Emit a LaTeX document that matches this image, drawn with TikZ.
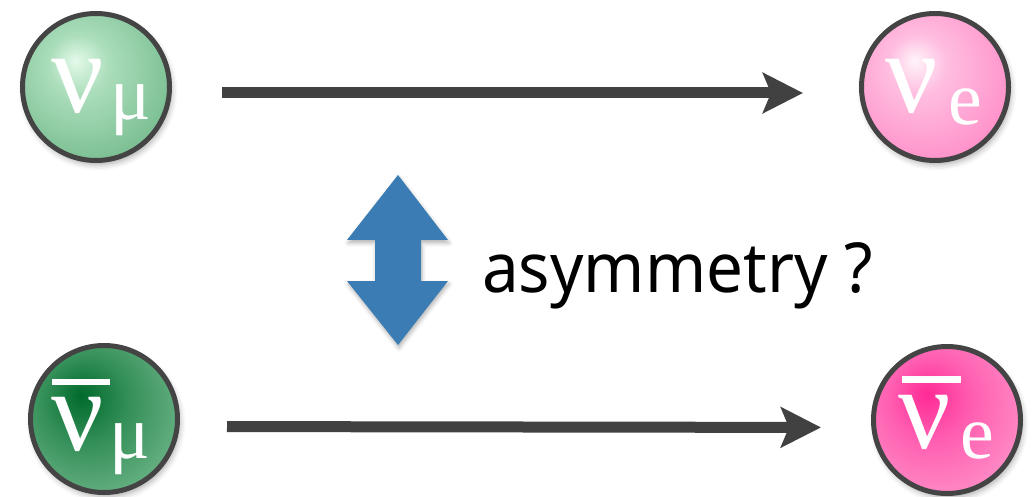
\documentclass[tikz,border=0pt]{standalone}
\usepackage{fontspec}
\usetikzlibrary{arrows.meta,shadows.blur}
\newfontfamily\grk{Liberation Serif}
\newfontfamily\talk{Noto Sans}

\definecolor{ring}{HTML}{444444}
\definecolor{flow}{HTML}{414141}
\definecolor{updown}{HTML}{3A7CB3}

% radial fills, bright spot up and to the left
\pgfdeclareradialshading{numufill}{\pgfpoint{-7bp}{9bp}}{%
  color(0bp)=(rgb,255:red,228;green,250;blue,234);
  color(10bp)=(rgb,255:red,172;green,222;blue,188);
  color(38bp)=(rgb,255:red,106;green,180;blue,132);
  color(66bp)=(rgb,255:red,58;green,134;blue,86)}
\pgfdeclareradialshading{nuefill}{\pgfpoint{-7bp}{9bp}}{%
  color(0bp)=(rgb,255:red,255;green,244;blue,250);
  color(10bp)=(rgb,255:red,255;green,190;blue,224);
  color(38bp)=(rgb,255:red,255;green,130;blue,194);
  color(66bp)=(rgb,255:red,255;green,74;blue,166)}
\pgfdeclareradialshading{anumufill}{\pgfpoint{-8bp}{8bp}}{%
  color(0bp)=(rgb,255:red,0;green,106;blue,44);
  color(14bp)=(rgb,255:red,50;green,142;blue,86);
  color(40bp)=(rgb,255:red,128;green,193;blue,152);
  color(66bp)=(rgb,255:red,198;green,233;blue,210)}
\pgfdeclareradialshading{anuefill}{\pgfpoint{-7bp}{9bp}}{%
  color(0bp)=(rgb,255:red,255;green,42;blue,150);
  color(14bp)=(rgb,255:red,255;green,94;blue,176);
  color(40bp)=(rgb,255:red,255;green,160;blue,208);
  color(66bp)=(rgb,255:red,255;green,214;blue,234)}

\tikzset{
  ball/.style={circle, draw=ring, line width=5pt, minimum size=147pt,
    inner sep=0pt, shading=#1,
    blur shadow={shadow xshift=2pt, shadow yshift=-4pt,
      shadow blur radius=6pt, shadow opacity=35}},
  bigsym/.style={anchor=base west, inner sep=0pt, text=white,
    font=\grk\fontsize{116}{116}\selectfont},
  subsym/.style={anchor=base west, inner sep=0pt, text=white,
    font=\grk\fontsize{76}{76}\selectfont},
  flowarrow/.style={draw=flow, line width=11pt,
    -{Stealth[length=40pt, width=40pt, inset=8pt]}},
}

\begin{document}
\begin{tikzpicture}[x=1pt, y=1pt]
\useasboundingbox (0,0) rectangle (1033,496);

% particles
\node[ball=numufill]  (numu)  at (96,409)  {};
\node[ball=nuefill]   (nue)   at (935,409) {};
\node[ball=anumufill] (anumu) at (104,77)  {};
\node[ball=anuefill]  (anue)  at (947,76)  {};

% symbols
\node[bigsym] (numu-n) at (51,383) {ν};
\node[subsym] (numu-s) at (110,376) {μ};
\node[bigsym] (nue-n) at (885,383) {ν};
\node[subsym] (nue-s) at (948,371) {e};

\fill[white] (52,111) rectangle (110,117);
\node[bigsym] (anumu-n) at (51,46) {ν};
\node[subsym] (anumu-s) at (109,38) {μ};
\fill[white] (902,113) rectangle (961,120);
\node[bigsym] (anue-n) at (898,48) {ν};
\node[subsym] (anue-s) at (960,38) {e};

% oscillation arrows
\draw[flowarrow, shorten <=50pt, shorten >=56pt]
  ([yshift=-6pt]numu.east) -- ([yshift=-6pt]nue.west);
\draw[flowarrow, shorten <=47pt, shorten >=50pt]
  ([yshift=-7.5pt]anumu.east) -- ([yshift=-7.5pt]anue.west);

% up/down arrow
\fill[updown, blur shadow={shadow xshift=1pt, shadow yshift=-3pt,
    shadow blur radius=4pt, shadow opacity=30}]
  (398,321) -- (448,256) -- (421,256) -- (421,215) -- (448,215)
  -- (398,151) -- (347,215) -- (375,215) -- (375,256) -- (347,256) -- cycle;

\node[anchor=base west, inner sep=0pt,
  font=\talk\fontsize{69}{69}\selectfont] (asym) at (482,204)
  {\scalebox{0.95}[1]{asymmetry ?}};
\end{tikzpicture}
\end{document}
